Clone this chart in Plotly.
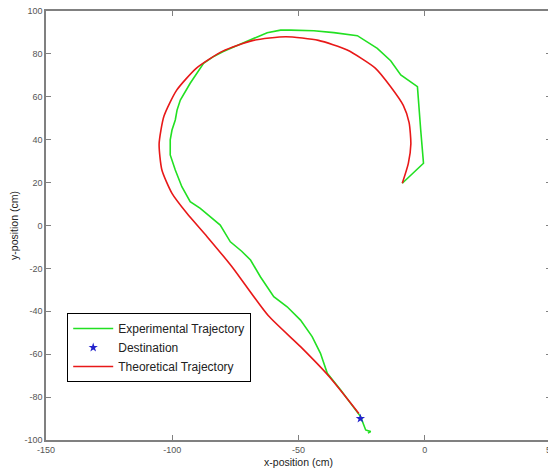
import plotly.graph_objects as go

# Experimental trajectory (cm)
exp_x = [-8.9, -0.5, -1.6, -2.9, -9.5, -13.5, -18.8, -26.7, -36.0, -43.9, -53.2, -57.1,
         -62.4, -69.0, -75.0, -80.0, -84.0, -87.6, -92.9, -96.8, -98.1, -98.8, -100.1,
         -100.8, -100.8, -98.8, -96.2, -92.9, -88.9, -81.0, -77.0, -72.5, -69.0, -67.1,
         -65.1, -59.8, -54.5, -49.2, -44.6, -41.3, -38.6, -33.3, -28.1, -25.4, -23.4,
         -21.4, -22.5]
exp_y = [19.7, 29.0, 44.5, 64.7, 70.2, 76.8, 82.6, 88.5, 89.9, 90.8, 91.1, 91.1,
         89.9, 86.5, 83.5, 81.0, 78.5, 75.6, 66.3, 58.5, 53.8, 49.2, 44.5,
         39.9, 32.9, 25.9, 18.1, 11.1, 8.0, 0.2, -7.6, -12.0, -16.1, -20.0,
         -23.9, -33.2, -37.9, -44.1, -51.8, -59.6, -68.9, -76.7, -84.5, -89.1, -95.3,
         -96.1, -96.8]

# Theoretical trajectory (cm)
theo_x = [-8.9, -6.5, -5.5, -6.2, -8.5, -13.5, -19.6, -30.7, -42.1, -55.0, -67.9, -80.0,
          -90.4, -98.3, -103.3, -105.2, -104.1, -100.1, -94.2, -86.2, -76.5,
          -62.0, -49.2, -37.8, -26.1]
theo_y = [19.7, 29.0, 38.0, 48.0, 56.0, 64.7, 73.4, 81.8, 86.3, 88.0, 86.3, 81.3,
          73.4, 63.0, 50.9, 38.0, 25.9, 15.0, 5.7, -5.2, -19.0,
          -42.0, -56.5, -70.5, -87.6]

# Destination
dest_x = [-25.5]
dest_y = [-90.0]

x_ticks = [-150, -100, -50, 0, 50]
x_tick_labels = ["-150", "-100", "-50", "0", "50"]
y_ticks = [-100, -80, -60, -40, -20, 0, 20, 40, 60, 80, 100]
y_tick_labels = ["-100", "-80", "-60", "-40", "-20", "0", "20", "40", "60", "80", "100"]

FONT = "Liberation Sans, Arial, sans-serif"

fig = go.Figure()
fig.add_trace(go.Scatter(x=exp_x, y=exp_y, mode="lines", name="Experimental Trajectory",
                         line=dict(color="#22e022", width=1.6)))
fig.add_trace(go.Scatter(x=dest_x, y=dest_y, mode="markers", name="Destination",
                         marker=dict(symbol="star", size=7, color="#2222cc")))
fig.add_trace(go.Scatter(x=theo_x, y=theo_y, mode="lines", name="Theoretical Trajectory",
                         line=dict(color="#e81818", width=1.6, shape="spline", smoothing=0.6)))

axis_common = dict(showgrid=False, zeroline=False, showline=True, linecolor="#808080",
                   linewidth=1.5, mirror="ticks", ticks="inside", ticklen=5,
                   tickcolor="#808080", tickwidth=1, ticklabeloverflow="allow",
                   automargin=False,
                   tickfont=dict(family=FONT, size=9, color="#555555"))

fig.update_layout(
    width=551, height=468,
    margin=dict(l=46, r=0, t=11, b=28),
    paper_bgcolor="white", plot_bgcolor="white",
    showlegend=True,
    legend=dict(x=0.042, y=0.296, xanchor="left", yanchor="top",
                bgcolor="white", bordercolor="#000000", borderwidth=1,
                font=dict(family=FONT, size=12, color="#222222"),
                tracegroupgap=0, itemwidth=40),
    xaxis=dict(range=[-150, 50], tickvals=x_ticks, ticktext=x_tick_labels,
               title=dict(text="x-position (cm)", standoff=7,
                          font=dict(family=FONT, size=10.5, color="#222222")),
               **axis_common),
    yaxis=dict(range=[-100, 100], tickvals=y_ticks, ticktext=y_tick_labels,
               title=dict(text="y-position (cm)", standoff=4,
                          font=dict(family=FONT, size=10.5, color="#222222")),
               **axis_common),
)

fig.write_html("out.html", config={"displayModeBar": False},
               post_script="document.body.style.margin='0px';"
                           "document.body.style.overflow='hidden';"
                           "document.documentElement.style.overflow='hidden';")
